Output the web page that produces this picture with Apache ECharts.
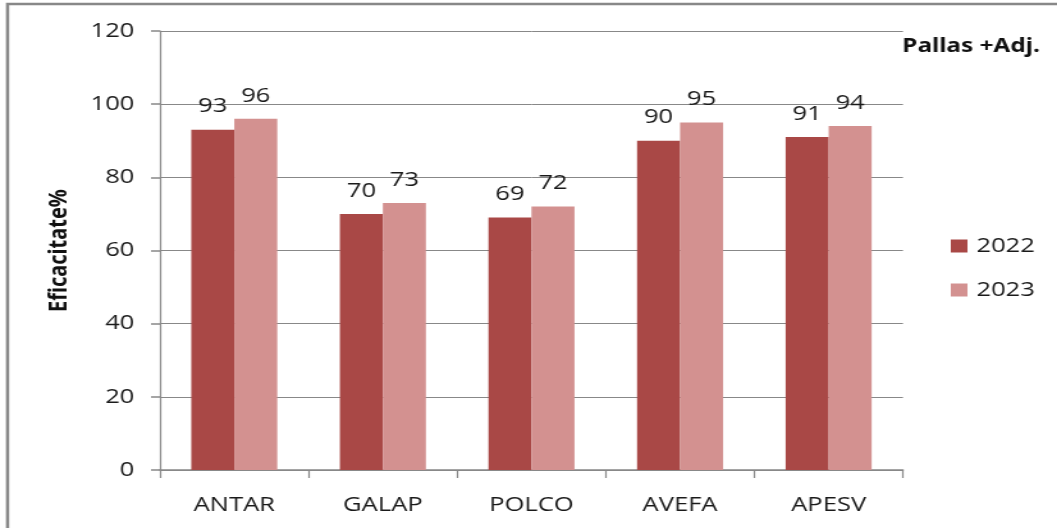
<!DOCTYPE html>
<html>
<head>
<meta charset="utf-8">
<script src="https://cdn.jsdelivr.net/npm/echarts@6/dist/echarts.min.js"></script>
<style>
  html, body { margin: 0; padding: 0; background: #fff; overflow: hidden; }
  /* the chart is laid out on a narrower canvas and widened to the full page width */
  #chart { width: 826px; height: 528px; transform: scaleX(1.2797); transform-origin: 0 0; }
</style>
</head>
<body>
<div id="chart"></div>
<script>
// Efficacy (%) by product, two seasons
const categories = ['ANTAR', 'GALAP', 'POLCO', 'AVEFA', 'APESV'];
const values2022 = [93, 70, 69, 90, 91];
const values2023 = [96, 73, 72, 95, 94];
const yTicks = [0, 20, 40, 60, 80, 100, 120];

const FONT = '"Open Sans", "Noto Sans", sans-serif';
const BOLD_FONT = '"Noto Sans", "Open Sans", sans-serif';
const chart = echarts.init(document.getElementById('chart'));

const labelStyle = {
  show: true,
  position: 'top',
  distance: 13,
  color: '#1a1a1a',
  fontSize: 20,
  fontFamily: FONT
};

chart.setOption({
  animation: false,
  backgroundColor: '#fff',
  textStyle: { fontFamily: FONT },
  title: {
    text: 'Pallas +Adj.',
    right: 8.5,
    top: 32,
    textStyle: { fontSize: 19, fontWeight: 'bold', color: '#111', fontFamily: BOLD_FONT }
  },
  legend: {
    orient: 'vertical',
    left: 738,
    top: 231,
    itemWidth: 13,
    itemHeight: 13,
    itemGap: 24,
    icon: 'rect',
    textStyle: { fontSize: 20, color: '#1a1a1a', fontFamily: FONT, padding: [0, 0, 0, 2] },
    data: ['2022', '2023']
  },
  grid: { left: 125, right: 120.4, top: 31, bottom: 58 },
  xAxis: {
    type: 'category',
    data: categories,
    axisLine: { lineStyle: { color: '#888', width: 1.5 } },
    axisTick: { show: true, length: 8, alignWithLabel: false, lineStyle: { color: '#888', width: 1.2 } },
    axisLabel: { fontSize: 20, color: '#1a1a1a', margin: 25, fontFamily: FONT }
  },
  yAxis: {
    type: 'value',
    min: yTicks[0],
    max: yTicks[yTicks.length - 1],
    interval: yTicks[1] - yTicks[0],
    name: 'Eficacitate%',
    nameLocation: 'middle',
    nameGap: 69,
    nameTextStyle: { fontSize: 20, fontWeight: 'bold', color: '#111', fontFamily: BOLD_FONT },
    axisLine: { show: true, lineStyle: { color: '#888', width: 1.2 } },
    axisTick: { show: true, length: 7, lineStyle: { color: '#888', width: 1.5 } },
    axisLabel: { fontSize: 20, color: '#1a1a1a', margin: 20, fontFamily: FONT },
    splitLine: { lineStyle: { color: '#888', width: 1 } }
  },
  series: [
    {
      name: '2022',
      type: 'bar',
      data: values2022,
      barWidth: 33.6,
      barGap: '0%',
      itemStyle: { color: '#A94846' },
      label: labelStyle
    },
    {
      name: '2023',
      type: 'bar',
      data: values2023,
      barWidth: 33.6,
      barGap: '0%',
      itemStyle: { color: '#D39190' },
      label: labelStyle
    }
  ],
  graphic: [
    {
      type: 'rect',
      shape: { x: 5.9, y: 4, width: 1000, height: 600 },
      style: { fill: 'none', stroke: '#888', lineWidth: 2.5 },
      silent: true
    }
  ]
});
</script>
</body>
</html>
